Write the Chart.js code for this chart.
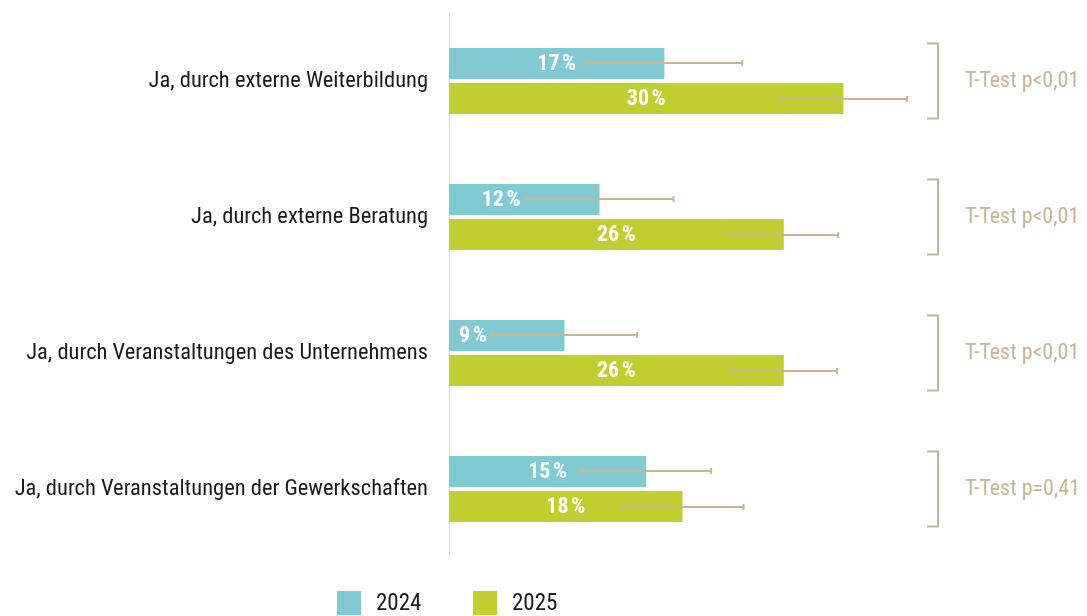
<!DOCTYPE html>
<html>
<head>
<meta charset="utf-8">
<script src="https://cdn.jsdelivr.net/npm/chart.js@4/dist/chart.umd.min.js"></script>
<style>
html,body{margin:0;padding:0;background:#fff;}
#wrap{position:relative;width:1087px;height:616px;}
</style>
</head>
<body>
<div id="wrap"><canvas id="c" width="1087" height="616"></canvas></div>
<script>
// ---- data ----
const categories = [
  'Ja, durch externe Weiterbildung',
  'Ja, durch externe Beratung',
  'Ja, durch Veranstaltungen des Unternehmens',
  'Ja, durch Veranstaltungen der Gewerkschaften'
];
const seriesNames = ['2024', '2025'];
const values2024 = [16.6, 11.6, 8.9, 15.2];
const values2025 = [30.4, 25.8, 25.8, 18.0];
const err2024 = [6.0, 5.7, 5.6, 5.0];
const err2025 = [4.9, 4.2, 4.1, 4.7];
const testLabels = ['T-Test p<0,01', 'T-Test p<0,01', 'T-Test p<0,01', 'T-Test p=0,41'];

// ---- styles ----
const COL_2024 = '#82CAD3';
const COL_2025 = '#C0CE2F';
const COL_ERR = '#C9B692';
const COL_TEST = '#C6B594';

function hasFont(name){
  const c = document.createElement('canvas').getContext('2d');
  const t = 'abcdefghijklmnopqrstuvwxyzABCDEFGHIJ0123456789';
  let diff = false;
  ['monospace','serif'].forEach(fb=>{
    c.font = '40px ' + fb; const a = c.measureText(t).width;
    c.font = "40px '" + name + "', " + fb; const b = c.measureText(t).width;
    if (a !== b) diff = true;
  });
  return diff;
}
const condensed = hasFont('Roboto Condensed');
const FAM = condensed ? "'Roboto Condensed', Roboto, sans-serif" : "Roboto, sans-serif";
const SX = condensed ? 1 : 0.86;

function drawText(ctx, txt, x, y, font, color, align){
  ctx.save();
  ctx.font = font;
  ctx.fillStyle = color;
  ctx.textBaseline = 'middle';
  ctx.textAlign = align;
  ctx.translate(x, y);
  ctx.scale(SX, 1);
  ctx.fillText(txt, 0, 0);
  ctx.restore();
}
function textWidth(ctx, txt, font){
  ctx.save(); ctx.font = font; const w = ctx.measureText(txt).width * SX; ctx.restore(); return w;
}

const overlay = {
  id: 'overlay',
  afterDatasetsDraw(chart){
    const ctx = chart.ctx;
    const xs = chart.scales.x;
    const errs = [err2024, err2025];
    const vfont = 'bold 22px ' + FAM;
    chart.data.datasets.forEach((ds, di) => {
      const meta = chart.getDatasetMeta(di);
      meta.data.forEach((bar, i) => {
        const v = ds.data[i];
        const txt = Math.round(v) + '\u202F%';
        const w = textWidth(ctx, txt, vfont);
        let cx = (bar.x + bar.base) / 2;
        const errLow = xs.getPixelForValue(v - errs[di][i]);
        if (cx + w / 2 > errLow - 5) cx = errLow - 5 - w / 2;
        drawText(ctx, txt, cx, bar.y + 1, vfont, '#ffffff', 'center');
      });
    });
    chart.data.datasets.forEach((ds, di) => {
      const meta = chart.getDatasetMeta(di);
      meta.data.forEach((bar, i) => {
        const v = ds.data[i];
        const e = errs[di][i];
        const x1 = xs.getPixelForValue(v - e);
        const x2 = xs.getPixelForValue(v + e);
        const y = Math.round(bar.y);
        ctx.save();
        ctx.strokeStyle = COL_ERR;
        ctx.lineWidth = 2;
        ctx.beginPath();
        ctx.moveTo(x1, y); ctx.lineTo(x2, y);
        ctx.moveTo(x1, y - 3); ctx.lineTo(x1, y + 3);
        ctx.moveTo(x2, y - 3); ctx.lineTo(x2, y + 3);
        ctx.stroke();
        ctx.restore();
      });
    });
  },
  afterDraw(chart){
    const ctx = chart.ctx;
    const ys = chart.scales.y;
    const ca = chart.chartArea;
    categories.forEach((c, i) => {
      const yc = ys.getPixelForValue(i);
      const half = ys.height / categories.length * 0.276;
      const bx = Math.round(ca.right - 30);
      ctx.save();
      ctx.strokeStyle = COL_TEST;
      ctx.lineWidth = 2;
      ctx.beginPath();
      ctx.moveTo(bx - 11, yc - half);
      ctx.lineTo(bx, yc - half);
      ctx.lineTo(bx, yc + half);
      ctx.lineTo(bx - 11, yc + half);
      ctx.stroke();
      ctx.restore();
      drawText(ctx, testLabels[i], ca.right - 3, yc, '22px ' + FAM, COL_TEST, 'left');
    });
    const cols = [COL_2024, COL_2025];
    const lx = ca.left - 112;
    const ly = 603;
    seriesNames.forEach((s, i) => {
      const x = lx + i * 136;
      ctx.fillStyle = cols[i];
      ctx.fillRect(x, ly - 12, 24, 24);
      drawText(ctx, s, x + 39, ly + 1, '23px ' + FAM, '#1a1a1a', 'left');
    });
  }
};

const chart = new Chart(document.getElementById('c'), {
  type: 'bar',
  data: {
    labels: categories,
    datasets: [
      { label: seriesNames[0], data: values2024, backgroundColor: COL_2024 },
      { label: seriesNames[1], data: values2025, backgroundColor: COL_2025 }
    ]
  },
  options: {
    indexAxis: 'y',
    responsive: false,
    animation: false,
    devicePixelRatio: 1,
    categoryPercentage: 0.515,
    barPercentage: 0.886,
    layout: { padding: { left: 0, right: 119, top: 13, bottom: 59 } },
    plugins: { legend: { display: false }, tooltip: { enabled: false } },
    scales: {
      x: { display: false, min: 0, max: 40 },
      y: {
        afterFit(s){ s.width = 449; s.paddingTop = 0; s.paddingBottom = 0; },
        grid: { display: false, drawTicks: false },
        border: { display: true, color: '#dcdcdc', width: 1 },
        ticks: {
          padding: 21,
          color: '#1a1a1a',
          font: { family: FAM, size: condensed ? 22.5 : 19 }
        }
      }
    }
  },
  plugins: [overlay]
});
</script>
</body>
</html>
